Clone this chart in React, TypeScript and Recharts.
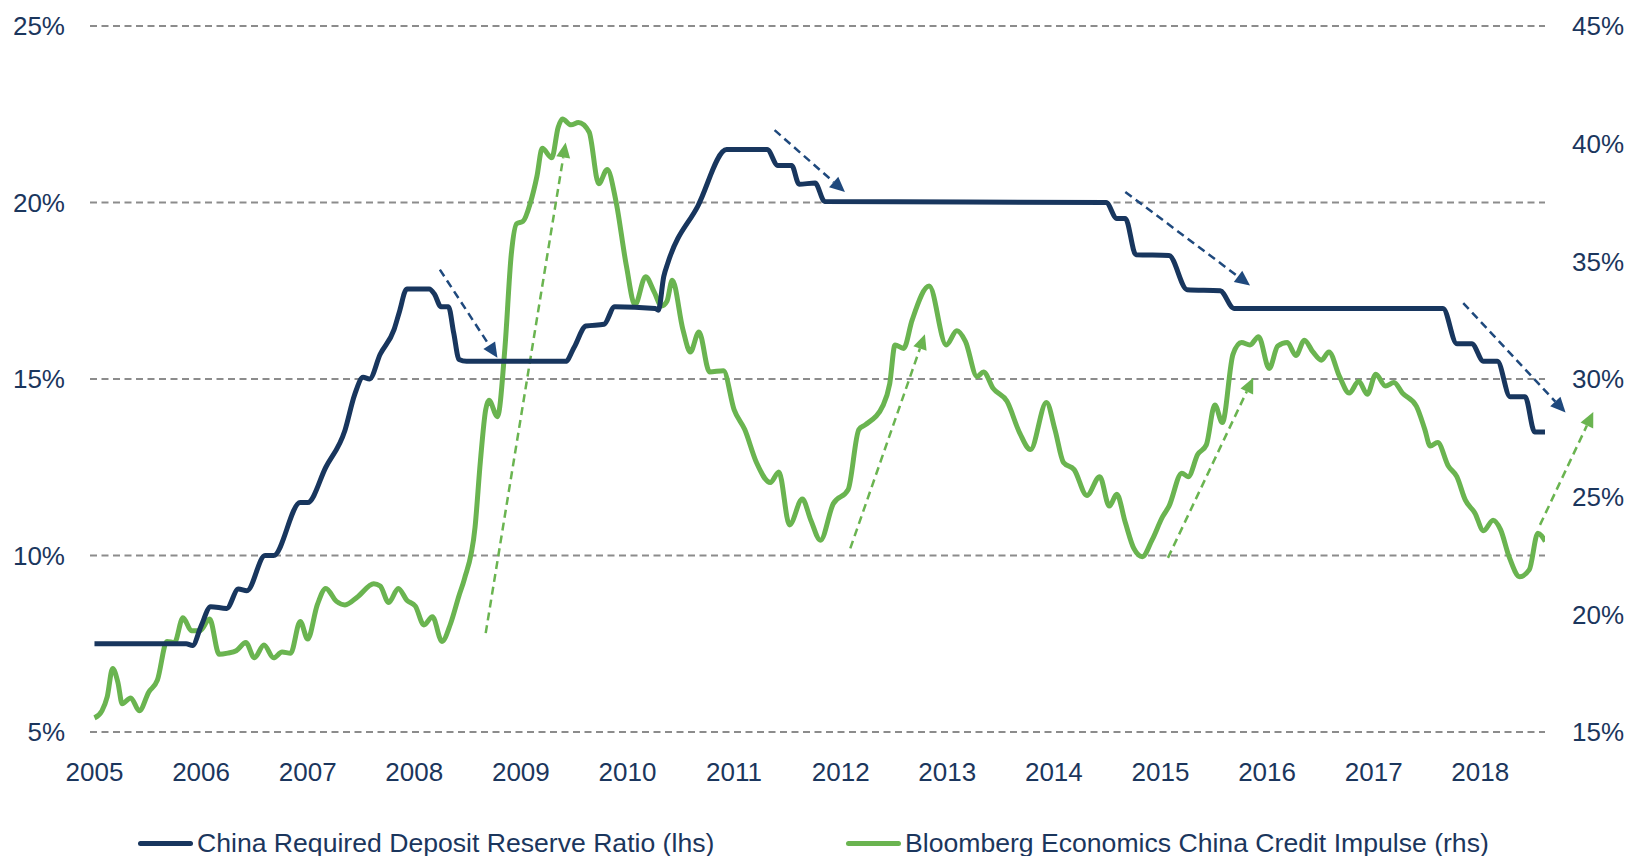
import { LineChart, Line, XAxis, YAxis, CartesianGrid, ReferenceLine } from "recharts";

const yearTicks = [2005, 2006, 2007, 2008, 2009, 2010, 2011, 2012, 2013, 2014, 2015, 2016, 2017, 2018];
const leftTicks = [5, 10, 15, 20, 25];
const rightTicks = [15, 20, 25, 30, 35, 40, 45];

// China required deposit reserve ratio (lhs, %)
const rrrDates = [
  2005.0, 2005.86, 2005.92, 2006.0, 2006.09, 2006.24, 2006.35, 2006.43, 2006.6, 2006.68,
  2006.93, 2007.0, 2007.17, 2007.35, 2007.44, 2007.52, 2007.58, 2007.68, 2007.81, 2007.86,
  2007.93, 2008.14, 2008.19, 2008.25, 2008.32, 2008.37, 2008.42, 2008.49, 2009.42, 2009.5,
  2009.61, 2009.78, 2009.88, 2010.26, 2010.29, 2010.34, 2010.38, 2010.66, 2010.93, 2011.31,
  2011.41, 2011.54, 2011.61, 2011.76, 2011.85, 2014.49, 2014.59, 2014.67, 2014.77, 2015.08,
  2015.25, 2015.56, 2015.69, 2017.65, 2017.78, 2017.92, 2018.03, 2018.16, 2018.28, 2018.42,
  2018.51, 2018.61,
];
const rrrValues = [
  7.5, 7.5, 7.45, 8.0, 8.55, 8.5, 9.05, 9.0, 10.0, 10.0,
  11.5, 11.5, 12.5, 13.55, 14.55, 15.05, 15.0, 15.7, 16.4, 16.9,
  17.55, 17.55, 17.4, 17.05, 17.05, 16.3, 15.55, 15.5, 15.5, 15.9,
  16.5, 16.55, 17.05, 17.0, 16.95, 17.9, 18.3, 19.9, 21.5, 21.5,
  21.05, 21.05, 20.52, 20.55, 20.03, 20.0, 19.55, 19.55, 18.52, 18.5,
  17.53, 17.5, 17.0, 17.0, 16.0, 16.0, 15.5, 15.5, 14.5, 14.5,
  13.5, 13.5,
];

// Bloomberg Economics China credit impulse (rhs, %)
const impulseDates = [
  2005.0, 2005.07, 2005.12, 2005.17, 2005.22, 2005.26, 2005.34, 2005.42, 2005.51, 2005.59,
  2005.68, 2005.75, 2005.83, 2005.91, 2005.99, 2006.08, 2006.17, 2006.25, 2006.33, 2006.42,
  2006.5, 2006.59, 2006.68, 2006.76, 2006.84, 2006.93, 2007.0, 2007.09, 2007.17, 2007.27,
  2007.35, 2007.47, 2007.62, 2007.68, 2007.76, 2007.85, 2007.93, 2008.01, 2008.09, 2008.17,
  2008.26, 2008.34, 2008.42, 2008.47, 2008.57, 2008.62, 2008.67, 2008.7, 2008.78, 2008.85,
  2008.91, 2008.96, 2009.02, 2009.09, 2009.15, 2009.2, 2009.29, 2009.35, 2009.39, 2009.47,
  2009.54, 2009.64, 2009.73, 2009.81, 2009.89, 2009.99, 2010.07, 2010.17, 2010.25, 2010.32,
  2010.37, 2010.42, 2010.52, 2010.59, 2010.67, 2010.77, 2010.9, 2011.0, 2011.1, 2011.21,
  2011.34, 2011.42, 2011.52, 2011.64, 2011.72, 2011.81, 2011.93, 2012.07, 2012.17, 2012.23,
  2012.4, 2012.46, 2012.51, 2012.59, 2012.67, 2012.83, 2012.99, 2013.09, 2013.17, 2013.28,
  2013.34, 2013.43, 2013.56, 2013.68, 2013.78, 2013.93, 2014.01, 2014.09, 2014.19, 2014.31,
  2014.43, 2014.52, 2014.59, 2014.67, 2014.75, 2014.83, 2014.92, 2015.02, 2015.08, 2015.2,
  2015.26, 2015.35, 2015.43, 2015.51, 2015.58, 2015.68, 2015.76, 2015.84, 2015.92, 2016.02,
  2016.1, 2016.19, 2016.27, 2016.35, 2016.43, 2016.51, 2016.58, 2016.68, 2016.77, 2016.86,
  2016.94, 2017.02, 2017.11, 2017.19, 2017.27, 2017.4, 2017.48, 2017.53, 2017.6, 2017.7,
  2017.78, 2017.86, 2017.95, 2018.03, 2018.12, 2018.19, 2018.27, 2018.37, 2018.46, 2018.54,
  2018.61,
];
const impulseValues = [
  15.6, 15.9, 16.5, 17.7, 17.1, 16.2, 16.45, 15.9, 16.7, 17.2,
  18.85, 18.8, 19.85, 19.3, 19.3, 19.8, 18.3, 18.35, 18.45, 18.8,
  18.15, 18.7, 18.15, 18.4, 18.35, 19.7, 18.95, 20.4, 21.1, 20.55,
  20.4, 20.75, 21.3, 21.2, 20.5, 21.1, 20.6, 20.35, 19.55, 19.9,
  18.85, 19.6, 20.8, 21.5, 23.7, 26.5, 28.7, 29.1, 28.4, 31.3,
  35.3, 36.6, 36.7, 37.5, 38.6, 39.8, 39.4, 40.7, 41.05, 40.8,
  40.9, 40.5, 38.3, 38.9, 37.6, 34.8, 33.15, 34.35, 33.7, 33.1,
  33.3, 34.2, 32.1, 31.15, 32.0, 30.3, 30.35, 28.7, 27.85, 26.45,
  25.6, 26.05, 23.8, 24.9, 24.0, 23.15, 24.7, 25.3, 27.85, 28.05,
  28.9, 29.8, 31.45, 31.3, 32.5, 33.95, 31.45, 32.05, 31.6, 30.1,
  30.3, 29.6, 29.05, 27.7, 27.0, 29.0, 27.85, 26.45, 26.15, 25.05,
  25.85, 24.6, 25.1, 23.9, 22.8, 22.45, 23.15, 24.15, 24.6, 26.0,
  25.85, 26.8, 27.2, 28.9, 28.15, 31.05, 31.55, 31.45, 31.8, 30.45,
  31.4, 31.55, 31.0, 31.65, 31.15, 30.8, 31.15, 30.1, 29.4, 29.9,
  29.35, 30.2, 29.7, 29.85, 29.4, 28.85, 27.85, 27.15, 27.3, 26.3,
  25.85, 24.85, 24.3, 23.55, 24.0, 23.6, 22.45, 21.6, 21.9, 23.45,
  23.1,
];

// trend arrows: [year, value] start and end
const rrrArrows = [
  [[2008.24, 18.1], [2008.78, 15.6]],
  [[2011.38, 22.05], [2012.04, 20.3]],
  [[2014.67, 20.3], [2015.84, 17.65]],
  [[2017.84, 17.15], [2018.8, 14.05]],
];
const impulseArrows = [
  [[2008.67, 19.2], [2009.42, 40.05]],
  [[2012.09, 22.8], [2012.79, 31.9]],
  [[2015.07, 22.4], [2015.87, 30.05]],
  [[2018.56, 23.8], [2019.06, 28.6]],
];

const rrrData = rrrDates.map((t, i) => ({ t, v: rrrValues[i] }));
const impulseData = impulseDates.map((t, i) => ({ t, v: impulseValues[i] }));

const NAVY = "#18365E";
const NAVY_ARROW = "#1F497D";
const GREEN = "#6AB450";
const TEXT = "#1B365D";
const FONT = "'Liberation Sans', Arial, sans-serif";

const tickStyle = { fill: TEXT, fontSize: 26, fontFamily: FONT };

function arrowShape(color: string) {
  return (props: any) => {
    const { x1, y1, x2, y2 } = props;
    const dx = x2 - x1;
    const dy = y2 - y1;
    const len = Math.hypot(dx, dy) || 1;
    const ux = dx / len;
    const uy = dy / len;
    const head = 15;
    const half = 7;
    const bx = x2 - ux * head;
    const by = y2 - uy * head;
    const pts = `${x2},${y2} ${bx - uy * half},${by + ux * half} ${bx + uy * half},${by - ux * half}`;
    return (
      <g>
        <line x1={x1} y1={y1} x2={bx} y2={by} stroke={color} strokeWidth={2.5} strokeDasharray="8 5" />
        <polygon points={pts} fill={color} />
      </g>
    );
  };
}

function LegendItem({ color, label, left }: { color: string; label: string; left: number }) {
  return (
    <div style={{ position: "absolute", left, top: 0, display: "flex", alignItems: "center", height: 30 }}>
      <div style={{ width: 55, height: 5, background: color, borderRadius: 3 }} />
      <span style={{ marginLeft: 4, fontSize: 26.6, color: TEXT, fontFamily: FONT, whiteSpace: "nowrap" }}>{label}</span>
    </div>
  );
}

export default function App() {
  return (
    <div style={{ position: "absolute", left: 0, top: 0, width: 1629, height: 856, background: "#fff" }}>
      <LineChart width={1629} height={800} margin={{ top: 26, right: 0, bottom: 8, left: 0 }}>
        <CartesianGrid
          yAxisId="left"
          vertical={false}
          stroke="#8C8C8C"
          strokeWidth={2}
          strokeDasharray="7 4.5"
        />
        <XAxis
          dataKey="t"
          type="number"
          domain={[2004.958, 2018.607]}
          allowDataOverflow
          ticks={yearTicks}
          interval={0}
          axisLine={false}
          tickLine={false}
          tickSize={0}
          tickMargin={31}
          height={60}
          tick={tickStyle}
          tickFormatter={(v) => String(v)}
        />
        <YAxis
          yAxisId="left"
          domain={[5, 25]}
          ticks={leftTicks}
          interval={0}
          width={90}
          axisLine={false}
          tickLine={false}
          tickSize={0}
          tickMargin={25}
          tick={tickStyle}
          tickFormatter={(v) => `${v}%`}
        />
        <YAxis
          yAxisId="right"
          orientation="right"
          domain={[15, 45]}
          ticks={rightTicks}
          interval={0}
          width={84}
          axisLine={false}
          tickLine={false}
          tickSize={0}
          tickMargin={27}
          tick={tickStyle}
          tickFormatter={(v) => `${v}%`}
        />
        {rrrArrows.map((a, i) => (
          <ReferenceLine
            key={`ra${i}`}
            yAxisId="left"
            ifOverflow="visible"
            segment={[
              { x: a[0][0], y: a[0][1] },
              { x: a[1][0], y: a[1][1] },
            ]}
            shape={arrowShape(NAVY_ARROW)}
          />
        ))}
        {impulseArrows.map((a, i) => (
          <ReferenceLine
            key={`ia${i}`}
            yAxisId="right"
            ifOverflow="visible"
            segment={[
              { x: a[0][0], y: a[0][1] },
              { x: a[1][0], y: a[1][1] },
            ]}
            shape={arrowShape(GREEN)}
          />
        ))}
        <Line
          yAxisId="right"
          data={impulseData}
          dataKey="v"
          type="monotone"
          stroke={GREEN}
          strokeWidth={5}
          dot={false}
          activeDot={false}
          isAnimationActive={false}
        />
        <Line
          yAxisId="left"
          data={rrrData}
          dataKey="v"
          type="monotone"
          stroke={NAVY}
          strokeWidth={5}
          dot={false}
          activeDot={false}
          isAnimationActive={false}
        />
      </LineChart>
      <div style={{ position: "absolute", left: 0, top: 828, width: 1629, height: 30 }}>
        <LegendItem color={NAVY} label="China Required Deposit Reserve Ratio (lhs)" left={138} />
        <LegendItem color={GREEN} label="Bloomberg Economics China Credit Impulse (rhs)" left={846} />
      </div>
    </div>
  );
}
